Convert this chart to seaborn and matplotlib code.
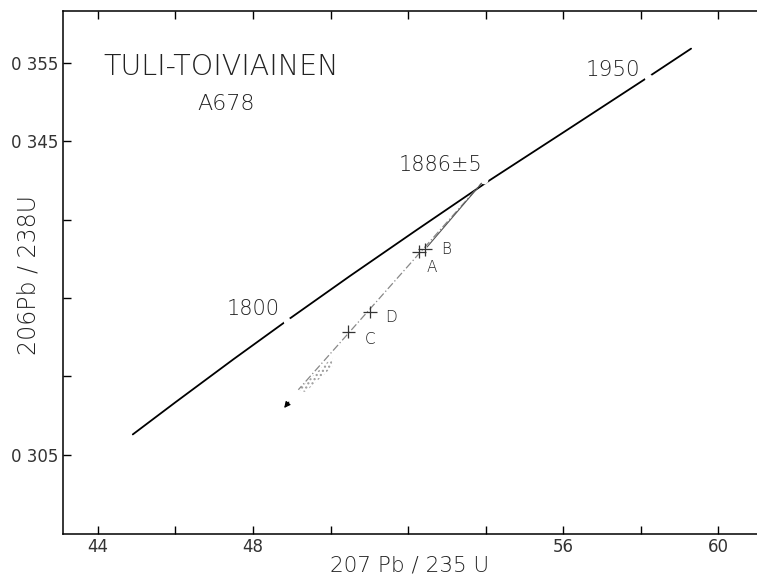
import numpy as np
import pandas as pd
import matplotlib
matplotlib.use("Agg")
import matplotlib.pyplot as plt
import seaborn as sns

# ---- data ----
# concordia curve (207Pb/235U, 206Pb/238U)
conc_x = [4.49, 4.60, 4.75, 4.887, 5.05, 5.22, 5.41, 5.60, 5.82, 5.93]
conc_y = [0.3076, 0.3117, 0.3172, 0.3221, 0.3278, 0.3336, 0.3400, 0.3461, 0.3532, 0.3568]
# age marks on concordia (gaps in the line)
mark_labels = ["1800", "1886±5", "1950"]
mark_x = [4.887, 5.396, 5.820]
mark_y = [0.3221, 0.3400, 0.3532]
# analysed fractions
frac_names = ["A", "B", "D", "C"]
frac_x = [5.229, 5.244, 5.102, 5.046]
frac_y = [0.3309, 0.3312, 0.3232, 0.3207]
frac_xerr = [0.018, 0.018, 0.017, 0.017]
frac_yerr = [0.0008, 0.0008, 0.0008, 0.0008]
# discordia (upper intercept -> lower end)
disc_x = [5.396, 4.917]
disc_y = [0.3400, 0.3133]
# error envelope line near upper intercept
env_x = [5.396, 5.249]
env_y = [0.3400, 0.3315]
# hatched envelope near lower end
hatch_x = [4.917, 5.004, 5.004, 4.935]
hatch_y = [0.3133, 0.3174, 0.3162, 0.3130]
# arrow toward lower intercept
arrow_from = (4.897, 0.3120)
arrow_to = (4.876, 0.3107)

x_ticks = [4.4, 4.6, 4.8, 5.0, 5.2, 5.4, 5.6, 5.8, 6.0]
x_ticklabels = ["44", "", "48", "", "", "", "56", "", "60"]
y_ticks = [0.305, 0.315, 0.325, 0.335, 0.345, 0.355]
y_ticklabels = ["0 305", "", "", "", "0 345", "0 355"]

sns.set_theme(style="white")
plt.rcParams["font.family"] = ["DejaVu Sans"]

fig = plt.figure(figsize=(7.57, 5.78), dpi=100)
ax = fig.add_axes([63/757, 44/578, 694/757, 523/578])

conc = pd.DataFrame({"x": conc_x, "y": conc_y})
sns.lineplot(data=conc, x="x", y="y", sort=False, color="black", lw=1.3, ax=ax, zorder=2)

disc = pd.DataFrame({"x": disc_x, "y": disc_y})
sns.lineplot(data=disc, x="x", y="y", sort=False, color="#888888", lw=0.9,
             linestyle=(0, (6, 2, 1, 2)), ax=ax, zorder=3)
env = pd.DataFrame({"x": env_x, "y": env_y})
sns.lineplot(data=env, x="x", y="y", sort=False, color="#555555", lw=0.8, ax=ax, zorder=3)

ax.fill(hatch_x, hatch_y, facecolor="none", edgecolor="#999999", hatch="....", lw=0, zorder=3)

ax.annotate("", xy=arrow_to, xytext=arrow_from,
            arrowprops=dict(arrowstyle="-|>", color="black", lw=0.8, mutation_scale=9))

# white gaps at the age marks
sns.scatterplot(x=mark_x, y=mark_y, color="white", s=30, marker="o", linewidth=0, ax=ax, zorder=4)

ax.errorbar(frac_x, frac_y, xerr=frac_xerr, yerr=frac_yerr, fmt="none",
            ecolor="#333333", elinewidth=0.9, capsize=0, zorder=5)

txt = dict(color="#222222", fontweight="light")
ax.text(4.414, 0.3545, "TULI-TOIVIAINEN", fontsize=20.5, ha="left", va="center", **txt)
ax.text(4.656, 0.3498, "A678", fontsize=16, ha="left", va="center", **txt)
ax.text(4.870, 0.3236, mark_labels[0], fontsize=15, ha="right", va="center", **txt)
ax.text(5.391, 0.3420, mark_labels[1], fontsize=15, ha="right", va="center", **txt)
ax.text(5.799, 0.3541, mark_labels[2], fontsize=15.5, ha="right", va="center", **txt)
lab_pos = {"A": (5.262, 0.32885), "B": (5.298, 0.33115), "D": (5.157, 0.32247), "C": (5.102, 0.31967)}
for n in frac_names:
    ax.text(lab_pos[n][0], lab_pos[n][1], n, fontsize=11, ha="center", va="center", **txt)

ax.set_xlim(4.31, 6.10)
ax.set_ylim(0.2949, 0.3616)
ax.set_xticks(x_ticks)
ax.set_xticklabels(x_ticklabels)
ax.set_yticks(y_ticks)
ax.set_yticklabels(y_ticklabels)
ax.tick_params(axis="both", direction="in", length=6, width=1, colors="black",
               labelsize=12, pad=3, labelcolor="#333333")
ax.tick_params(axis="x", top=True, bottom=True)
ax.tick_params(axis="y", left=True, right=False)

for s in ["left", "bottom", "top"]:
    ax.spines[s].set_visible(True)
    ax.spines[s].set_color("black")
    ax.spines[s].set_linewidth(1.1)
ax.spines["right"].set_visible(False)

ax.set_xlabel("207 Pb / 235 U", fontsize=15.5, color="#222222", fontweight="light")
ax.set_ylabel("206Pb / 238U", fontsize=17, color="#222222", fontweight="light")
ax.xaxis.set_label_coords(0.5, -0.041)
ax.yaxis.set_label_coords(-0.032, 0.495)
ax.grid(False)

fig.savefig("out.png", dpi=100)
